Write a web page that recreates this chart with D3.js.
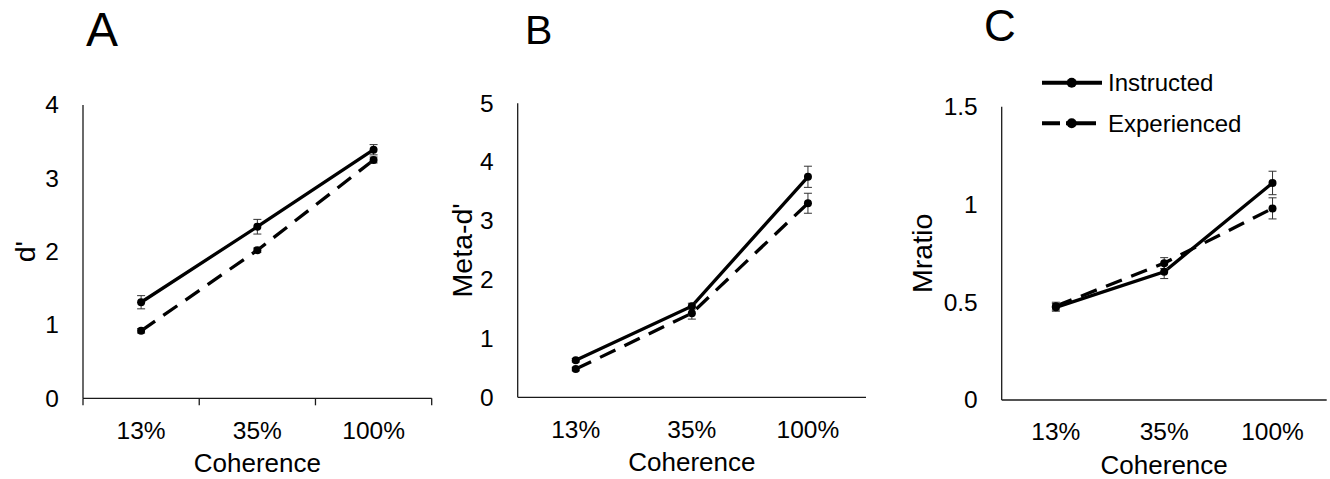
<!DOCTYPE html>
<html>
<head>
<meta charset="utf-8">
<script src="https://cdn.jsdelivr.net/npm/d3@7"></script>
<style>
  html, body { margin: 0; padding: 0; background: #fff; }
  svg { display: block; font-family: "Liberation Sans", Arial, sans-serif; }
</style>
</head>
<body>
<svg id="chart" width="1330" height="479"></svg>
<script>
// ---- data ----
const coherence = ["13%", "35%", "100%"];
const seriesNames = ["Instructed", "Experienced"];

// panel A: d'
const dprimeInstructed = [1.31, 2.34, 3.39];
const dprimeInstructedErr = [0.09, 0.10, 0.07];
const dprimeExperienced = [0.92, 2.02, 3.25];
const dprimeExperiencedErr = [0.03, 0.03, 0.04];
const dprimeTicks = [0, 1, 2, 3, 4];

// panel B: meta-d'
const metaInstructed = [0.63, 1.55, 3.75];
const metaInstructedErr = [0.03, 0.05, 0.18];
const metaExperienced = [0.48, 1.43, 3.30];
const metaExperiencedErr = [0.03, 0.10, 0.17];
const metaTicks = [0, 1, 2, 3, 4, 5];

// panel C: M-ratio
const mratioInstructed = [0.474, 0.656, 1.11];
const mratioInstructedErr = [0.02, 0.035, 0.06];
const mratioExperienced = [0.48, 0.70, 0.98];
const mratioExperiencedErr = [0.02, 0.028, 0.054];
const mratioTicks = [0, 0.5, 1, 1.5];

// ---- layout ----
const panels = [
  { letter: "A", letterX: 86, letterY: 46, letterSize: 48,
    left: 83, right: 431.7, top: 105, bottom: 398.3,
    yLabel: "d'", yLabelX: 35, ticks: dprimeTicks, catTicks: true,
    series: [
      { name: seriesNames[0], values: dprimeInstructed, err: dprimeInstructedErr, dashed: false },
      { name: seriesNames[1], values: dprimeExperienced, err: dprimeExperiencedErr, dashed: true }
    ] },
  { letter: "B", letterX: 525, letterY: 44, letterSize: 41,
    left: 517.7, right: 866, top: 103.3, bottom: 397.3,
    yLabel: "Meta-d'", yLabelX: 472, ticks: metaTicks, catTicks: false,
    series: [
      { name: seriesNames[0], values: metaInstructed, err: metaInstructedErr, dashed: false },
      { name: seriesNames[1], values: metaExperienced, err: metaExperiencedErr, dashed: true }
    ] },
  { letter: "C", letterX: 984, letterY: 41, letterSize: 44,
    left: 1001.7, right: 1326.7, top: 106.7, bottom: 400,
    yLabel: "Mratio", yLabelX: 932, ticks: mratioTicks, catTicks: false, legend: true,
    series: [
      { name: seriesNames[0], values: mratioInstructed, err: mratioInstructedErr, dashed: false },
      { name: seriesNames[1], values: mratioExperienced, err: mratioExperiencedErr, dashed: true }
    ] }
];

const svg = d3.select("#chart");
const DASH = "17,10";
const axisColor = "#1a1a1a";

panels.forEach(p => {
  const g = svg.append("g");

  const x = d3.scaleBand().domain(coherence).range([p.left, p.right]).padding(0);
  const cx = c => x(c) + x.bandwidth() / 2;
  const y = d3.scaleLinear().domain([0, d3.max(p.ticks)]).range([p.bottom, p.top]);

  // panel letter
  g.append("text")
    .attr("x", p.letterX).attr("y", p.letterY)
    .attr("font-size", p.letterSize)
    .attr("fill", "#000")
    .text(p.letter);

  // y tick labels
  const yAxis = d3.axisLeft(y).tickValues(p.ticks).tickSize(0).tickPadding(24)
    .tickFormat(d => String(d));
  const yg = g.append("g").attr("transform", `translate(${p.left},0)`).call(yAxis);
  yg.select(".domain").remove();
  yg.selectAll("text").attr("font-size", 24.5).attr("fill", "#000")
    .attr("font-family", "Liberation Sans, Arial, sans-serif");

  // x tick labels
  const xAxis = d3.axisBottom(x).tickSize(0).tickPadding(23);
  const xg = g.append("g").attr("transform", `translate(0,${p.bottom})`).call(xAxis);
  xg.select(".domain").remove();
  xg.selectAll("text").attr("font-size", 24.5).attr("fill", "#000")
    .attr("font-family", "Liberation Sans, Arial, sans-serif");

  // axis lines
  g.append("line")
    .attr("x1", p.left).attr("x2", p.left)
    .attr("y1", y(d3.max(p.ticks))).attr("y2", p.bottom)
    .attr("stroke", axisColor).attr("stroke-width", 1.3);
  g.append("line")
    .attr("x1", p.left).attr("x2", p.right)
    .attr("y1", p.bottom).attr("y2", p.bottom)
    .attr("stroke", axisColor).attr("stroke-width", 1.3);

  // category boundary ticks
  if (p.catTicks) {
    const edges = coherence.map(c => x(c)).concat([x(coherence[coherence.length - 1]) + x.bandwidth()]);
    g.selectAll(".cattick").data(edges).join("line")
      .attr("x1", d => d).attr("x2", d => d)
      .attr("y1", p.bottom).attr("y2", p.bottom + 7)
      .attr("stroke", axisColor).attr("stroke-width", 1.3);
  }

  // axis titles
  g.append("text")
    .attr("x", (p.left + p.right) / 2).attr("y", p.bottom + 73.5)
    .attr("text-anchor", "middle").attr("font-size", 26).attr("fill", "#000")
    .text("Coherence");
  g.append("text")
    .attr("transform", `translate(${p.yLabelX},${(p.top + p.bottom) / 2}) rotate(-90)`)
    .attr("text-anchor", "middle").attr("font-size", 28.5).attr("fill", "#000")
    .text(p.yLabel);

  const line = d3.line().x((d, i) => cx(coherence[i])).y(d => y(d));

  // series lines
  p.series.forEach(s => {
    g.append("path")
      .attr("d", line(s.values))
      .attr("fill", "none").attr("stroke", "#000").attr("stroke-width", 3.3)
      .attr("stroke-dasharray", s.dashed ? DASH : null);
  });

  // error bars
  p.series.forEach(s => {
    const eb = g.append("g").attr("stroke", "#333").attr("stroke-width", 1);
    s.values.forEach((v, i) => {
      const xc = cx(coherence[i]);
      const lo = y(v - s.err[i]), hi = y(v + s.err[i]);
      eb.append("line").attr("x1", xc).attr("x2", xc).attr("y1", lo).attr("y2", hi);
      eb.append("line").attr("x1", xc - 4).attr("x2", xc + 4).attr("y1", lo).attr("y2", lo);
      eb.append("line").attr("x1", xc - 4).attr("x2", xc + 4).attr("y1", hi).attr("y2", hi);
    });
  });

  // markers
  p.series.forEach(s => {
    g.selectAll(null).data(s.values).join("circle")
      .attr("cx", (d, i) => cx(coherence[i])).attr("cy", d => y(d))
      .attr("r", 4).attr("fill", "#000");
  });

  // legend
  if (p.legend) {
    const lg = g.append("g");
    const rows = [
      { name: seriesNames[0], dashed: false, y: 82.7, textY: 91 },
      { name: seriesNames[1], dashed: true, y: 123.3, textY: 131.5 }
    ];
    rows.forEach(r => {
      lg.append("line")
        .attr("x1", 1042).attr("x2", r.dashed ? 1096 : 1102)
        .attr("y1", r.y).attr("y2", r.y)
        .attr("stroke", "#000").attr("stroke-width", 4)
        .attr("stroke-dasharray", r.dashed ? "18,6,30" : null);
      lg.append("circle").attr("cx", 1071.7).attr("cy", r.y).attr("r", 5).attr("fill", "#000");
      lg.append("text").attr("x", 1108).attr("y", r.textY)
        .attr("font-size", 24).attr("fill", "#000").text(r.name);
    });
  }
});
</script>
</body>
</html>
